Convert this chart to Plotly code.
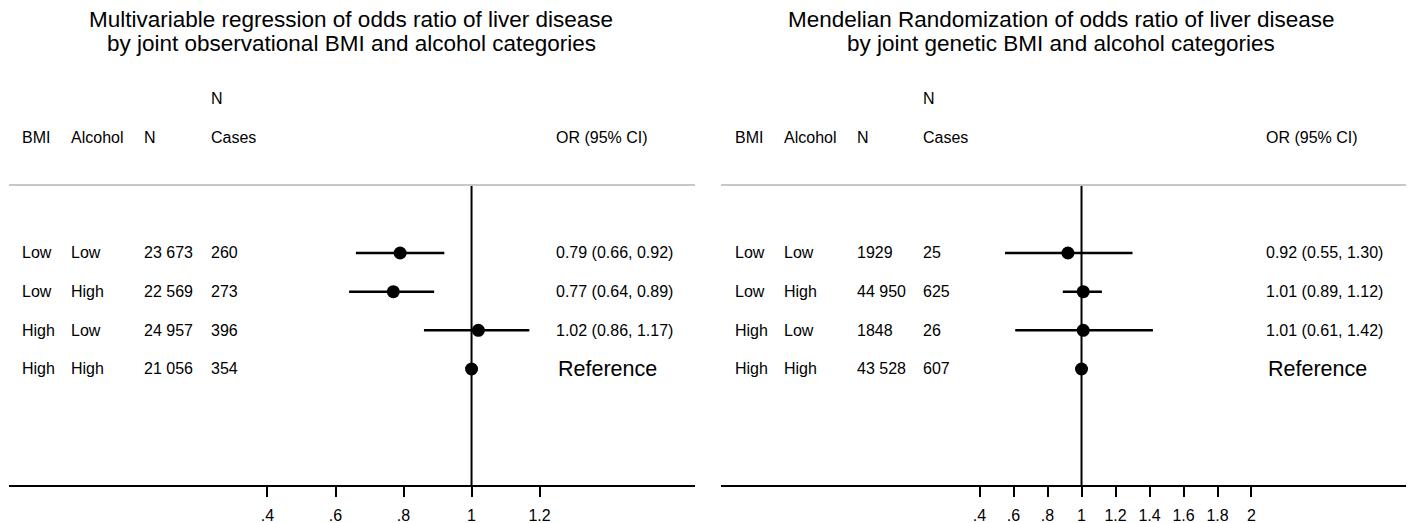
import plotly.graph_objects as go

# ---- data -------------------------------------------------------------
bmi = ["Low", "Low", "High", "High"]
alcohol = ["Low", "High", "Low", "High"]
is_reference = [False, False, False, True]

# Multivariable regression (observational BMI / alcohol)
obs_n = [23673, 22569, 24957, 21056]
obs_cases = [260, 273, 396, 354]
obs_or = [0.79, 0.77, 1.02, 1.00]
obs_lo = [0.66, 0.64, 0.86, 1.00]
obs_hi = [0.92, 0.89, 1.17, 1.00]

# Mendelian randomization (genetic BMI / alcohol)
mr_n = [1929, 44950, 1848, 43528]
mr_cases = [25, 625, 26, 607]
mr_or = [0.92, 1.01, 1.01, 1.00]
mr_lo = [0.55, 0.89, 0.61, 1.00]
mr_hi = [1.30, 1.12, 1.42, 1.00]

obs_ticks = [0.4, 0.6, 0.8, 1.0, 1.2]
obs_ticklabels = [".4", ".6", ".8", "1", "1.2"]
mr_ticks = [0.4, 0.6, 0.8, 1.0, 1.2, 1.4, 1.6, 1.8, 2.0]
mr_ticklabels = [".4", ".6", ".8", "1", "1.2", "1.4", "1.6", "1.8", "2"]

titles_obs = ["Multivariable regression of odds ratio of liver disease",
              "by joint observational BMI and alcohol categories"]
titles_mr = ["Mendelian Randomization of odds ratio of liver disease",
             "by joint genetic BMI and alcohol categories"]

header_labels = ["BMI", "Alcohol", "N", "Cases", "OR (95% CI)"]

# ---- page geometry ------------------------------------------------------
W, H = 1413, 523
FONT = "Arial, Liberation Sans, sans-serif"
TXT = 16
BIG = 21.5

rows = [1, 2, 3, 4]


def px(x):
    return x / W


def py(y):
    return 1 - y / H


def fmt_n(n):
    return f"{n:,}".replace(",", " ") if n >= 10000 else str(n)


panels = [
    dict(xa="x", ya="y", dom=[px(9), px(695)], rng=[-0.360, 1.657],
         ticks=obs_ticks, ticklabels=obs_ticklabels,
         cols=[20, 69, 142, 209, 554], title_x=351,
         titles=titles_obs, n=obs_n, cases=obs_cases,
         orr=obs_or, lo=obs_lo, hi=obs_hi),
    dict(xa="x2", ya="y2", dom=[px(721), px(1406)], rng=[-1.121, 2.909],
         ticks=mr_ticks, ticklabels=mr_ticklabels,
         cols=[733, 782, 855, 921, 1264], title_x=1061,
         titles=titles_mr, n=mr_n, cases=mr_cases,
         orr=mr_or, lo=mr_lo, hi=mr_hi),
]

fig = go.Figure()
annotations = []
shapes = []

for i, p in enumerate(panels):
    sfx = "" if i == 0 else "2"
    # point estimates with confidence intervals
    fig.add_trace(go.Scatter(
        x=p["orr"], y=rows, mode="markers",
        xaxis=p["xa"], yaxis=p["ya"],
        marker=dict(size=13, color="black", symbol="circle"),
        error_x=dict(type="data", symmetric=False,
                     array=[h - o for h, o in zip(p["hi"], p["orr"])],
                     arrayminus=[o - l for o, l in zip(p["orr"], p["lo"])],
                     color="black", thickness=2.5, width=0),
        showlegend=False, hoverinfo="skip", cliponaxis=False,
    ))

    fig.update_layout(**{
        "xaxis" + sfx: dict(
            domain=p["dom"], range=p["rng"], anchor="y" + sfx,
            tickmode="array", tickvals=p["ticks"], ticktext=p["ticklabels"],
            showline=True, linecolor="black", linewidth=2,
            ticks="outside", ticklen=10, tickwidth=2, tickcolor="black",
            ticklabelstandoff=5,
            tickfont=dict(family=FONT, size=16, color="black"),
            showgrid=False, zeroline=False, fixedrange=True),
        "yaxis" + sfx: dict(
            domain=[py(485), py(185)], range=[7.0, -0.758],
            anchor="x" + sfx, visible=False, showgrid=False,
            zeroline=False, fixedrange=True),
    })

    yref = "y" + sfx
    c_bmi, c_alc, c_n, c_cases, c_or = p["cols"]

    # column headers (above the plotting area)
    annotations.append(dict(x=px(c_cases), y=py(98), yref="paper", text="N"))
    for col, label in zip(p["cols"], header_labels):
        annotations.append(dict(x=px(col), y=py(137), yref="paper", text=label))

    # table rows
    for r, b, a, n, c, o, l, h, ref in zip(rows, bmi, alcohol, p["n"], p["cases"],
                                            p["orr"], p["lo"], p["hi"], is_reference):
        annotations.append(dict(x=px(c_bmi), y=r, yref=yref, text=b))
        annotations.append(dict(x=px(c_alc), y=r, yref=yref, text=a))
        annotations.append(dict(x=px(c_n), y=r, yref=yref, text=fmt_n(n)))
        annotations.append(dict(x=px(c_cases), y=r, yref=yref, text=str(c)))
        if ref:
            annotations.append(dict(x=px(c_or + 2), y=r, yref=yref, text="Reference",
                                    font=dict(family=FONT, size=BIG, color="black")))
        else:
            annotations.append(dict(x=px(c_or), y=r, yref=yref,
                                    text=f"{o:.2f} ({l:.2f}, {h:.2f})"))

    # panel titles
    for t, ty in zip(p["titles"], [20, 43]):
        annotations.append(dict(x=px(p["title_x"]), y=py(ty), yref="paper",
                                text=t, xanchor="center",
                                font=dict(family=FONT, size=22.5, color="black")))

    # header separator
    shapes.append(dict(type="line", xref="paper", yref="paper",
                       x0=p["dom"][0], x1=p["dom"][1], y0=py(185), y1=py(185),
                       line=dict(color="#c8c8c8", width=2)))
    # line of no effect
    shapes.append(dict(type="line", xref=p["xa"], yref=p["ya"] + " domain",
                       x0=1, x1=1, y0=0, y1=1,
                       line=dict(color="black", width=2), layer="below"))

for a in annotations:
    a.setdefault("xref", "paper")
    a.setdefault("showarrow", False)
    a.setdefault("xanchor", "left")
    a.setdefault("yanchor", "middle")
    a.setdefault("font", dict(family=FONT, size=TXT, color="black"))

fig.update_layout(
    width=W, height=H,
    margin=dict(l=0, r=0, t=0, b=0),
    paper_bgcolor="white", plot_bgcolor="white",
    annotations=annotations, shapes=shapes,
    font=dict(family=FONT, color="black"),
)

fig.write_html("out.html")
